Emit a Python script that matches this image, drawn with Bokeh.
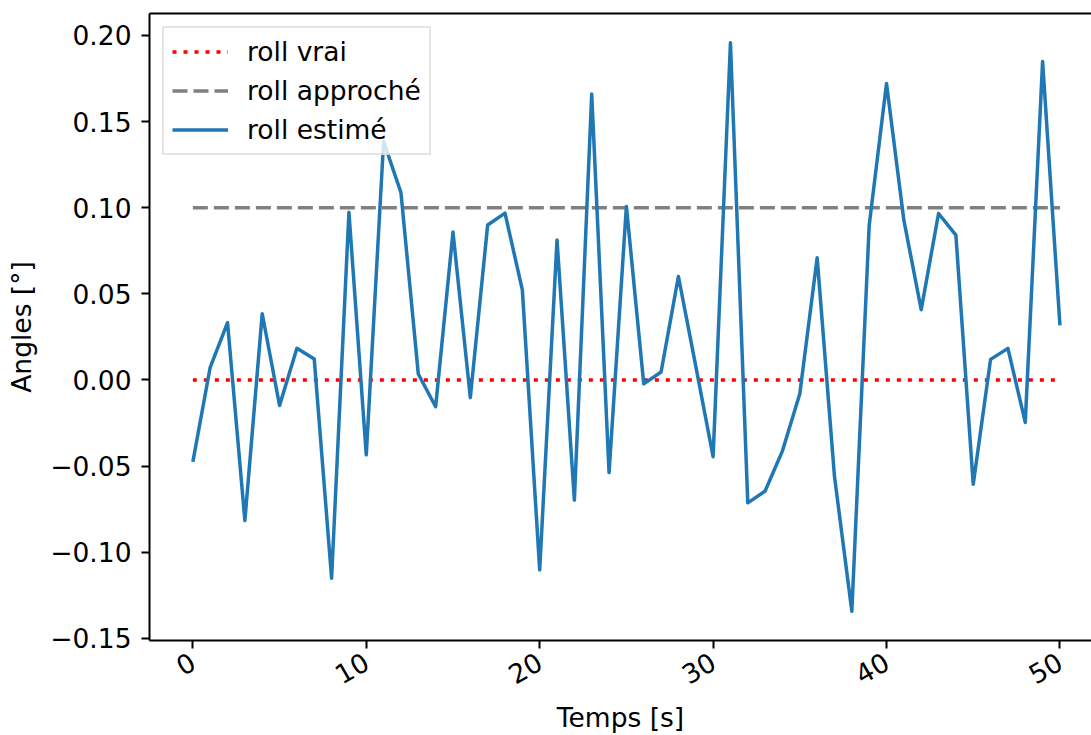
import math

from bokeh.embed import file_html
from bokeh.models import (CustomJSTickFormatter, FixedTicker, LinearAxis,
                          Range1d)
from bokeh.plotting import figure
from bokeh.resources import INLINE

# Time samples [s]
temps = list(range(51))

# Estimated roll angle at each sample
roll_estime = [
    -0.0476, 0.0073, 0.0332, -0.0817, 0.0384, -0.0149, 0.0183, 0.0121,
    -0.1151, 0.0973, -0.0435, 0.1384, 0.1087, 0.0034, -0.0156, 0.0858,
    -0.0103, 0.0899, 0.0968, 0.0522, -0.1103, 0.0812, -0.0698, 0.1659,
    -0.0538, 0.1007, -0.0023, 0.0046, 0.0600, 0.0080, -0.0446, 0.1957,
    -0.0714, -0.0645, -0.0412, -0.0080, 0.0709, -0.0561, -0.1343, 0.0897,
    0.1721, 0.0927, 0.0407, 0.0966, 0.0840, -0.0606, 0.0119, 0.0183,
    -0.0247, 0.1849, 0.0316,
]

# True roll and approximated roll (constant)
roll_vrai = [0.0] * len(temps)
roll_approche = [0.1] * len(temps)

x_ticks = [0, 10, 20, 30, 40, 50]
y_ticks = [-0.15, -0.10, -0.05, 0.00, 0.05, 0.10, 0.15, 0.20]

FONT = "DejaVu Sans"
FS = "26.5px"

p = figure(
    width=1091, height=735,
    x_range=Range1d(-2.5, 51.82), y_range=Range1d(-0.1513, 0.2127),
    output_backend="svg", toolbar_location=None,
    min_border_left=149, min_border_right=0,
    min_border_top=13, min_border_bottom=95,
    background_fill_color="white", border_fill_color="white",
)
p.outline_line_color = None
p.grid.visible = False

p.line(temps, roll_vrai, line_color="red", line_width=3.5,
       line_dash="4 7", legend_label="roll vrai")
p.line(temps, roll_approche, line_color="gray", line_width=3.5,
       line_dash="15 6", legend_label="roll approché")
p.line(temps, roll_estime, line_color="#1f77b4", line_width=3.5,
       line_join="round", legend_label="roll estimé")

# Axes styling
for ax in (p.xaxis[0], p.yaxis[0]):
    ax.axis_line_width = 2
    ax.axis_line_color = "black"
    ax.major_tick_in = 0
    ax.major_tick_out = 8
    ax.major_tick_line_width = 2
    ax.minor_tick_line_color = None
    ax.major_label_text_font = FONT
    ax.major_label_text_font_size = FS
    ax.major_label_text_color = "black"
    ax.axis_label_text_font = FONT
    ax.axis_label_text_font_size = FS
    ax.axis_label_text_font_style = "normal"
    ax.axis_label_text_color = "black"

p.xaxis.ticker = FixedTicker(ticks=x_ticks)
p.xaxis.major_label_orientation = math.pi / 6
p.xaxis.major_label_standoff = 11
p.xaxis.axis_label = "Temps [s]"
p.xaxis.axis_label_standoff = 5

p.yaxis.ticker = FixedTicker(ticks=y_ticks)
p.yaxis.formatter = CustomJSTickFormatter(
    code="return tick.toFixed(2).replace('-', '\\u2212');")
p.yaxis.major_label_standoff = 10
p.yaxis.axis_label = "Angles [°]"
p.yaxis.axis_label_standoff = 10

# Top spine only (no right spine within the canvas)
top = LinearAxis(ticker=FixedTicker(ticks=[]), axis_line_width=2,
                 axis_line_color="black", major_tick_line_color=None,
                 minor_tick_line_color=None)
p.add_layout(top, "above")

# Legend
lg = p.legend[0]
lg.location = "top_left"
lg.margin = 13
lg.padding = 8
lg.spacing = 8
lg.glyph_width = 56
lg.glyph_height = 31
lg.label_height = 31
lg.label_standoff = 19
lg.label_text_font = FONT
lg.label_text_font_size = FS
lg.label_text_color = "black"
lg.background_fill_color = "white"
lg.background_fill_alpha = 0.8
lg.border_line_color = "#cccccc"
lg.border_line_width = 2

open("out.html", "w").write(file_html(p, INLINE))
